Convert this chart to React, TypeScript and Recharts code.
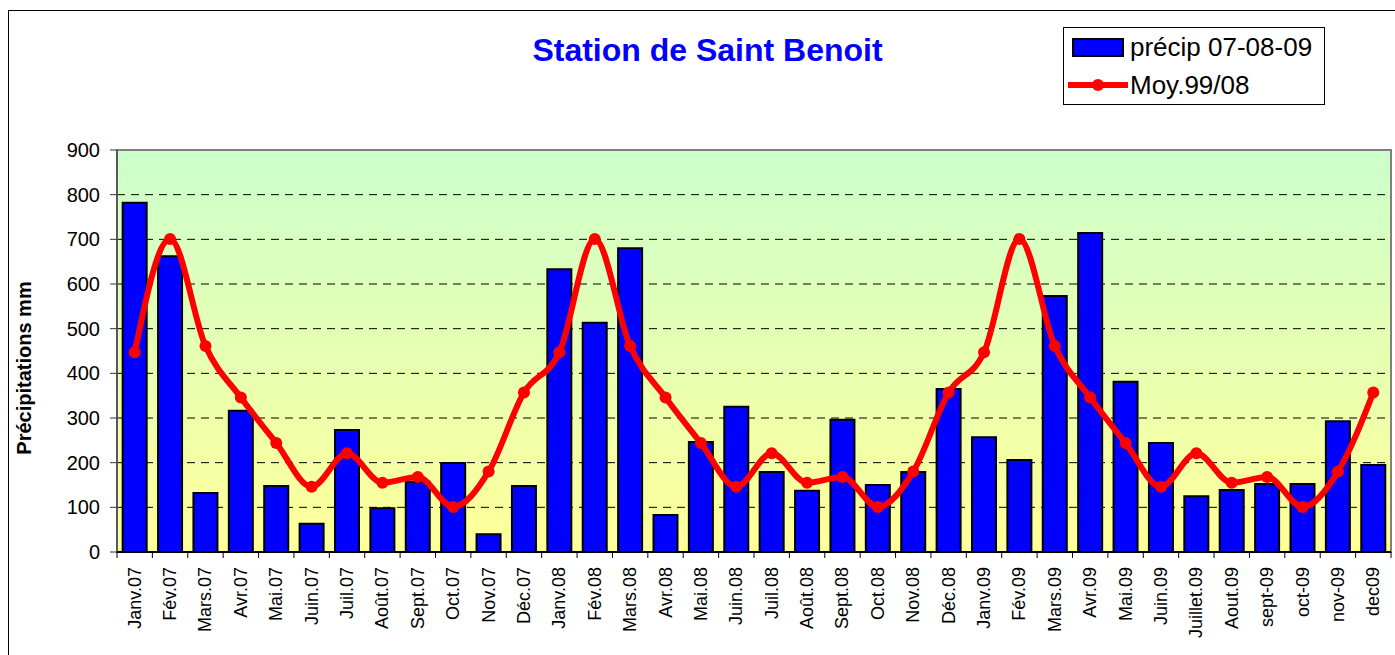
import React from 'react';
import {
  ComposedChart, Bar, Line, XAxis, YAxis, CartesianGrid, Legend, ReferenceArea,
} from 'recharts';

const categories = [
  'Janv.07', 'Fév.07', 'Mars.07', 'Avr.07', 'Mai.07', 'Juin.07', 'Juil.07', 'Août.07', 'Sept.07', 'Oct.07', 'Nov.07', 'Déc.07',
  'Janv.08', 'Fév.08', 'Mars.08', 'Avr.08', 'Mai.08', 'Juin.08', 'Juil.08', 'Août.08', 'Sept.08', 'Oct.08', 'Nov.08', 'Déc.08',
  'Janv.09', 'Fév.09', 'Mars.09', 'Avr.09', 'Mai.09', 'Juin.09', 'Juillet.09', 'Aout.09', 'sept-09', 'oct-09', 'nov-09', 'dec09',
];

const precip = [
  782, 662, 132, 316, 148, 63, 273, 98, 157, 199, 40, 148,
  633, 513, 680, 83, 246, 325, 179, 137, 296, 150, 179, 365,
  257, 206, 573, 714, 381, 244, 125, 139, 152, 152, 293, 195,
];

const moyenne = [
  447, 701, 461, 346, 244, 146, 221, 155, 168, 101, 180, 357,
  447, 701, 461, 346, 244, 146, 221, 155, 168, 101, 180, 357,
  447, 701, 461, 346, 244, 146, 221, 155, 168, 101, 180, 357,
];

const yTicks = [0, 100, 200, 300, 400, 500, 600, 700, 800, 900];

const data = categories.map((c, i) => ({ name: c, precip: precip[i], moy: moyenne[i] }));

const W = 1395;
const H = 655;
const PLOT_LEFT = 117;
const PLOT_RIGHT = 1391;
const PLOT_TOP = 150;
const PLOT_BOTTOM = 552;
const BAND = (PLOT_RIGHT - PLOT_LEFT) / categories.length;
const FONT = 'Arial, "Liberation Sans", Helvetica, sans-serif';

const XTick = (props: any) => {
  const { x, index, payload } = props;
  const left = x - BAND / 2;
  const ty = PLOT_BOTTOM + 15;
  return (
    <g>
      <line x1={left} x2={left} y1={PLOT_BOTTOM} y2={PLOT_BOTTOM + 6} stroke="#000" strokeWidth={1} />
      {index === categories.length - 1 && (
        <line x1={x + BAND / 2} x2={x + BAND / 2} y1={PLOT_BOTTOM} y2={PLOT_BOTTOM + 6} stroke="#000" strokeWidth={1} />
      )}
      <text
        x={x}
        y={ty}
        transform={`rotate(-90, ${x}, ${ty})`}
        textAnchor="end"
        dominantBaseline="central"
        fontFamily={FONT}
        fontSize={18}
        fill="#000"
      >
        {payload.value}
      </text>
    </g>
  );
};

const YLabel = () => (
  <text
    x={24}
    y={368}
    transform="rotate(-90, 24, 368)"
    textAnchor="middle"
    dominantBaseline="central"
    fontFamily={FONT}
    fontSize={20}
    fontWeight="bold"
    fill="#000"
  >
    Précipitations mm
  </text>
);

const LegendContent = () => (
  <div
    style={{
      width: 260,
      height: 76,
      border: '1px solid #000',
      background: '#fff',
      fontFamily: FONT,
      fontSize: 26,
      color: '#000',
      position: 'relative',
      boxSizing: 'content-box',
    }}
  >
    <svg width={70} height={76} style={{ position: 'absolute', left: 0, top: 0 }}>
      <rect x={9} y={11} width={50} height={17} fill="#0000FF" stroke="#000" strokeWidth={2} />
      <line x1={4} x2={64} y1={57} y2={57} stroke="#FF0000" strokeWidth={6} />
      <circle cx={34} cy={57} r={6} fill="#FF0000" />
    </svg>
    <div style={{ position: 'absolute', left: 66, top: 2, lineHeight: '34px', whiteSpace: 'nowrap' }}>précip 07-08-09</div>
    <div style={{ position: 'absolute', left: 66, top: 40, lineHeight: '34px', whiteSpace: 'nowrap' }}>Moy.99/08</div>
  </div>
);

export default function App() {
  return (
    <div style={{ position: 'absolute', left: 0, top: 0, width: W, height: H, overflow: 'hidden', background: '#fff' }}>
      <div
        style={{
          position: 'absolute', left: 8, top: 10, width: 1450, height: 700,
          border: '1px solid #000', boxSizing: 'border-box',
        }}
      />
      <div
        style={{
          position: 'absolute', left: 0, top: 29, width: 1415, textAlign: 'center',
          fontFamily: FONT, fontWeight: 'bold', fontSize: 32, color: '#0000FF', lineHeight: '42px',
        }}
      >
        Station de Saint Benoit
      </div>
      <div style={{ position: 'absolute', left: 0, top: 0 }}>
        <ComposedChart
          width={W}
          height={H}
          data={data}
          margin={{ top: PLOT_TOP, right: W - PLOT_RIGHT, bottom: 0, left: 0 }}
          barCategoryGap="16%"
        >
          <defs>
            <linearGradient id="bgGrad" x1="0" y1="0" x2="0" y2="1">
              <stop offset="0%" stopColor="#CCFFCC" />
              <stop offset="100%" stopColor="#FFFF99" />
            </linearGradient>
          </defs>
          <CartesianGrid
            vertical={false}
            fill="url(#bgGrad)"
            fillOpacity={1}
            stroke="#000"
            strokeDasharray="8 6"
            strokeWidth={1}
          />
          <ReferenceArea y1={0} y2={900} fill="none" stroke="#808080" strokeWidth={2} ifOverflow="visible" />
          <XAxis
            dataKey="name"
            interval={0}
            height={H - PLOT_BOTTOM}
            tickLine={false}
            axisLine={{ stroke: '#000', strokeWidth: 2 }}
            tick={<XTick />}
          />
          <YAxis
            width={PLOT_LEFT}
            domain={[0, 900]}
            ticks={yTicks}
            interval={0}
            tickSize={7}
            tickMargin={10}
            axisLine={{ stroke: '#333', strokeWidth: 1 }}
            tickLine={{ stroke: '#333' }}
            tick={{ fontFamily: FONT, fontSize: 20, fill: '#000' }}
            label={<YLabel />}
          />
          <Legend
            layout="vertical"
            align="center"
            verticalAlign="middle"
            content={<LegendContent />}
            wrapperStyle={{ position: 'absolute', left: 1063, top: 27, width: 262, height: 78 }}
          />
          <Bar dataKey="precip" name="précip 07-08-09" fill="#0000FF" stroke="#000" strokeWidth={2} isAnimationActive={false} />
          <Line
            dataKey="moy"
            name="Moy.99/08"
            type="monotone"
            stroke="#FF0000"
            strokeWidth={6}
            dot={{ r: 6, fill: '#FF0000', stroke: '#FF0000', strokeWidth: 0 }}
            activeDot={false}
            isAnimationActive={false}
          />
        </ComposedChart>
      </div>
    </div>
  );
}
